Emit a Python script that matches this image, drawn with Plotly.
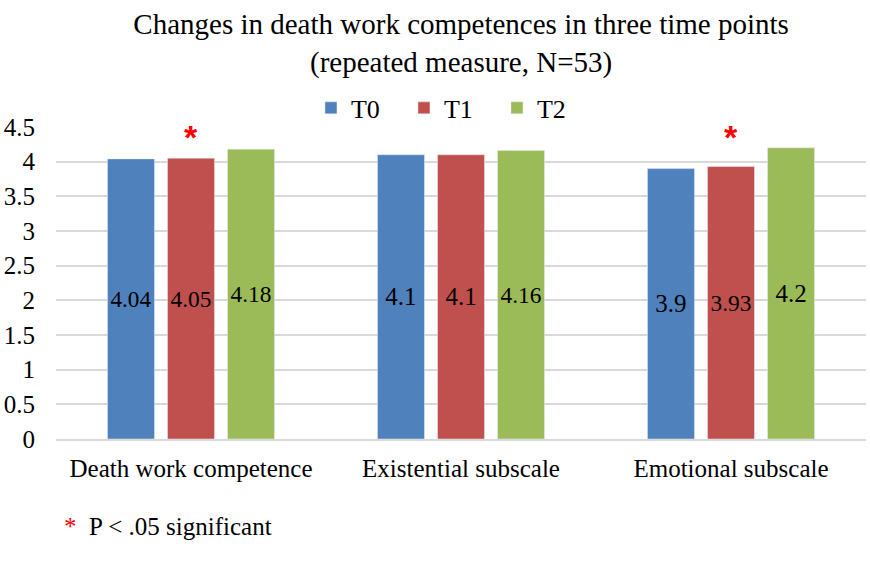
import plotly.graph_objects as go

categories = ["Death work competence", "Existential subscale", "Emotional subscale"]
series_names = ["T0", "T1", "T2"]
t0_values = [4.04, 4.1, 3.9]
t1_values = [4.05, 4.1, 3.93]
t2_values = [4.18, 4.16, 4.2]
significant_t1 = [True, False, True]
y_ticks = [0, 0.5, 1, 1.5, 2, 2.5, 3, 3.5, 4, 4.5]
y_tick_labels = ["0", "0.5", "1", "1.5", "2", "2.5", "3", "3.5", "4", "4.5"]

colors = ["#4f81bd", "#c0504d", "#9bbb59"]
FONT = "Liberation Serif, Times New Roman, serif"

fig = go.Figure()
for name, vals, col in zip(series_names, [t0_values, t1_values, t2_values], colors):
    fig.add_trace(go.Bar(
        name=name, x=categories, y=vals, marker_color=col,
        text=[f"{v:g}" for v in vals], textposition="inside",
        insidetextanchor="middle", textangle=0,
        textfont=dict(family=FONT, size=25, color="black"),
    ))

for cat, sig in zip(categories, significant_t1):
    if sig:
        fig.add_annotation(x=cat, y=4.35, text="<b>*</b>", showarrow=False,
                           font=dict(family="Liberation Sans, Arial", size=34, color="#ff0000"),
                           yanchor="middle")

fig.add_annotation(xref="paper", yref="paper", x=0.008, y=-0.282, xanchor="left", yanchor="middle",
                   text="<span style='color:#ff0000'>*</span>  P &lt; .05 significant",
                   showarrow=False, font=dict(family=FONT, size=25, color="black"))

fig.update_layout(
    width=870, height=565,
    margin=dict(l=56, r=4, t=127, b=126, autoexpand=False),
    paper_bgcolor="white", plot_bgcolor="white",
    title=dict(text="Changes in death work competences in three time points<br>(repeated measure, N=53)",
               x=0.53, xanchor="center", y=0.94, yanchor="middle",
               font=dict(family=FONT, size=29, color="black")),
    barmode="group", bargap=0.333, bargroupgap=0.217,
    showlegend=True,
    legend=dict(orientation="h", x=0.487, xanchor="center", y=1.061, yanchor="middle",
                font=dict(family=FONT, size=26, color="black"), itemwidth=30,
                entrywidth=48, traceorder="normal"),
    font=dict(family=FONT, color="black"),
)
fig.update_yaxes(range=[0, 4.5], tickvals=y_ticks, ticktext=y_tick_labels,
                 showgrid=True, gridcolor="#d9d9d9", gridwidth=2, zeroline=False,
                 showline=False, ticks="", tickfont=dict(family=FONT, size=25, color="black"),
                 ticklabelstandoff=20, automargin=False)
fig.update_xaxes(showline=True, linecolor="#d9d9d9", linewidth=2, ticks="",
                 tickfont=dict(family=FONT, size=25, color="black"), ticklabelstandoff=6,
                 automargin=False)

fig.write_html("out.html", config={"displayModeBar": False},
               post_script="document.body.style.margin='0';")
